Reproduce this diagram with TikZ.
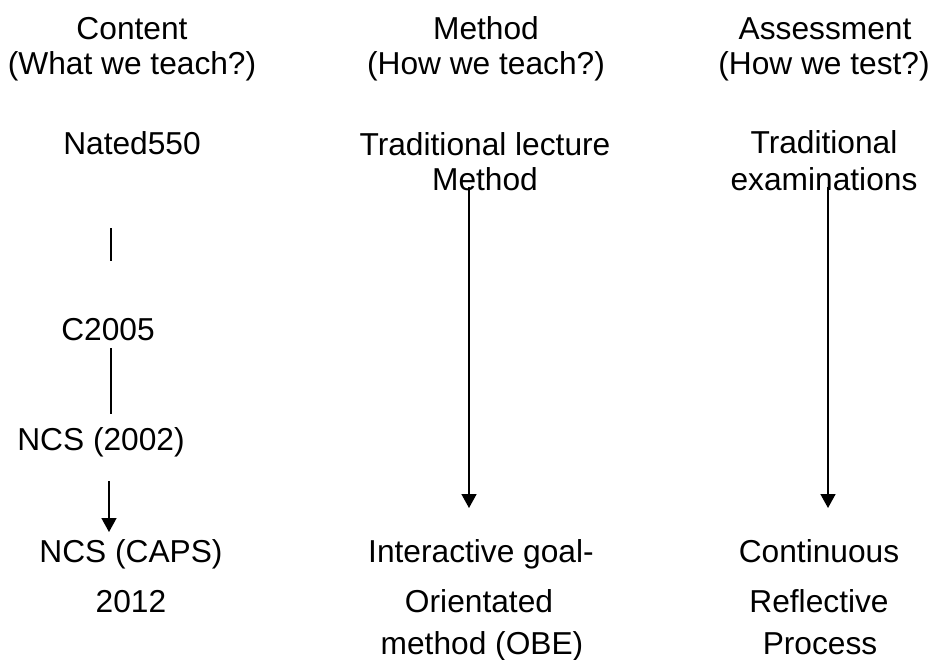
\documentclass[tikz,border=0pt]{standalone}
\usepackage{fontspec}
\setmainfont{Liberation Sans}
\usetikzlibrary{arrows.meta}
\begin{document}
\begin{tikzpicture}[x=1pt,y=-1pt,
  txt/.style={inner sep=0pt,anchor=base,font=\fontsize{31.7}{35}\selectfont},
  conn/.style={line width=1.6pt},
  arr/.style={conn,-{Triangle[width=15pt,length=14pt]}}]
\useasboundingbox (0,0) rectangle (932,659);
% headings
\node[txt] (h1a) at (132,39) {Content};
\node[txt] (h1b) at (132,74) {(What we teach?)};
\node[txt] (h2a) at (486,39) {Method};
\node[txt] (h2b) at (486,74) {(How we teach?)};
\node[txt] (h3a) at (825,39) {Assessment};
\node[txt] (h3b) at (824,74) {(How we test?)};
% top row
\node[txt] (nated) at (132,154) {Nated550};
\node[txt] (trad1) at (485,155) {Traditional lecture};
\node[txt] (trad1b) at (485,190) {Method};
\node[txt] (trad2) at (824,153) {Traditional};
\node[txt] (trad2b) at (824,190) {examinations};
% content column
\node[txt] (c2005) at (108,340) {C2005};
\node[txt] (ncs02) at (101,450) {NCS (2002)};
\node[txt] (caps) at (131,562) {NCS (CAPS)};
\node[txt] (y2012) at (131,612) {2012};
% bottom row
\node[txt] (inter) at (481,562) {Interactive goal-};
\node[txt] (orient) at (479,612) {Orientated};
\node[txt] (obe) at (482,654) {method (OBE)};
\node[txt] (cont) at (819,562) {Continuous};
\node[txt] (refl) at (819,612) {Reflective};
\node[txt] (proc) at (820,654) {Process};
% connector end points
\coordinate (l1a) at (111,228);
\coordinate (l1b) at (111,261);
\coordinate (l2a) at (111,348);
\coordinate (l2b) at (111,414);
\coordinate (a1a) at (109,481);
\coordinate (a1b) at (109,532);
\coordinate (a2a) at (469,187);
\coordinate (a2b) at (469,508);
\coordinate (a3a) at (828,187);
\coordinate (a3b) at (828,508);
\draw[conn] (l1a) -- (l1b);
\draw[conn] (l2a) -- (l2b);
\draw[arr] (a1a) -- (a1b);
\draw[arr] (a2a) -- (a2b);
\draw[arr] (a3a) -- (a3b);
\end{tikzpicture}
\end{document}
